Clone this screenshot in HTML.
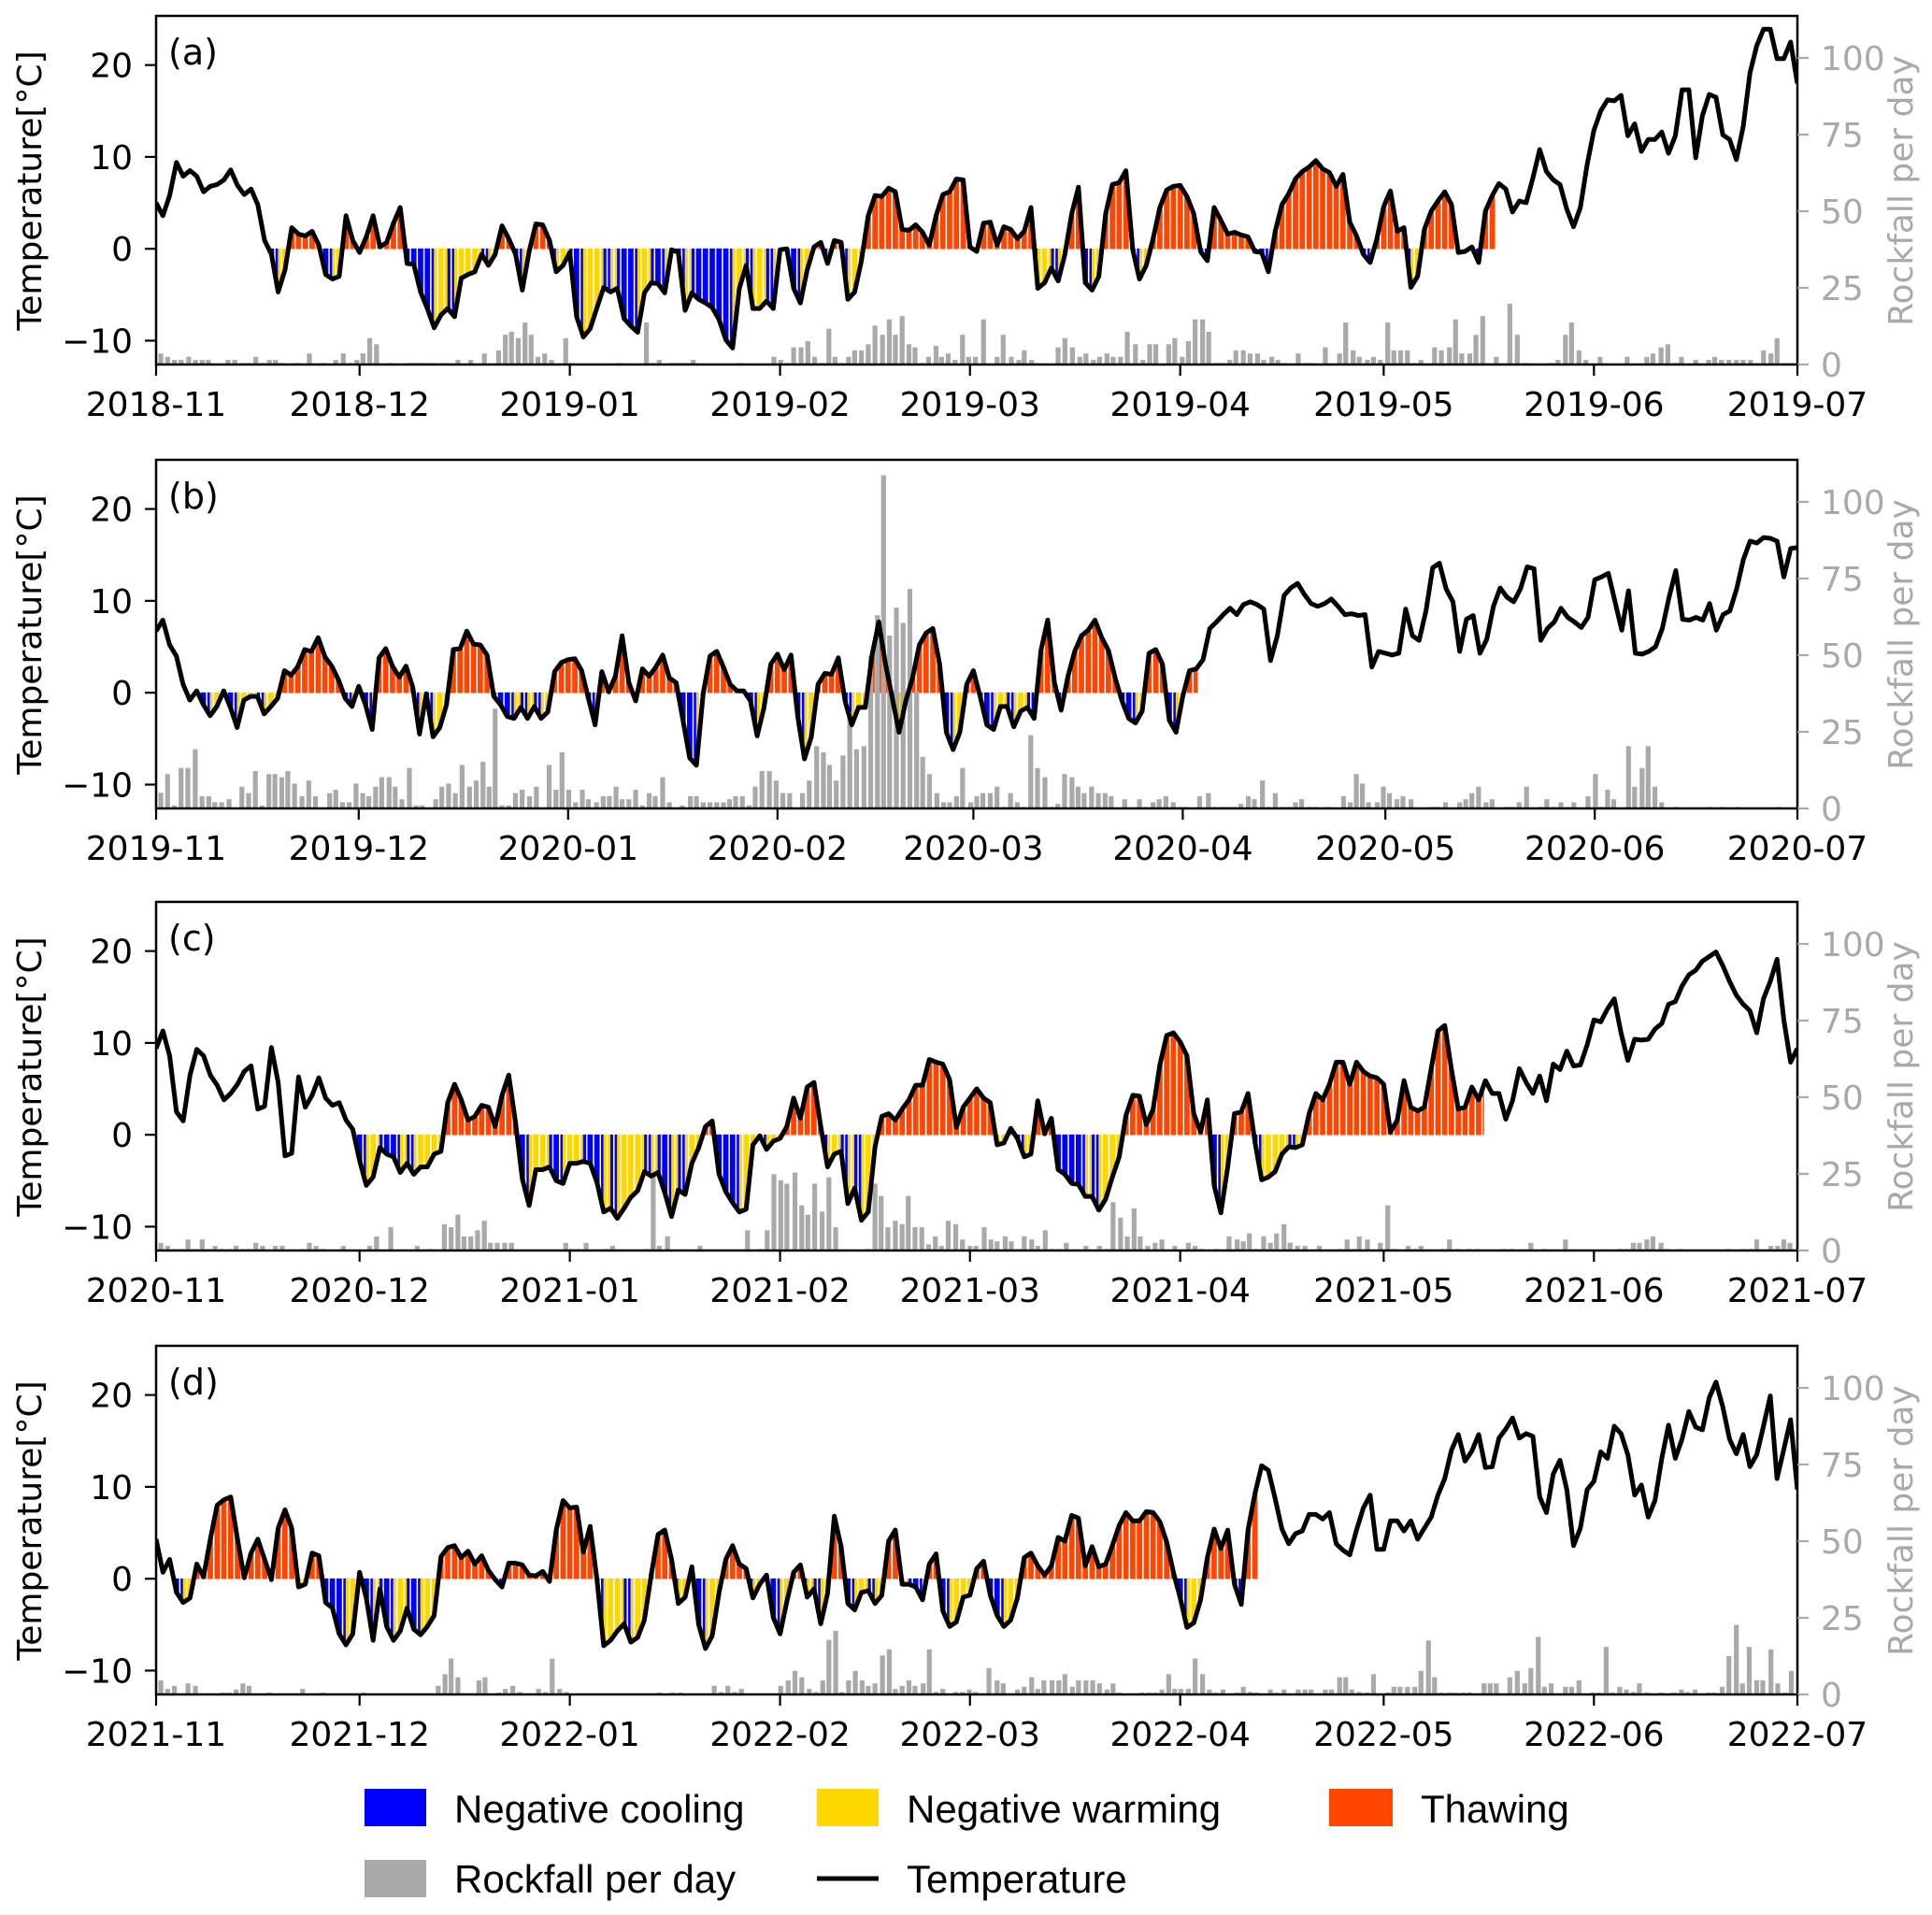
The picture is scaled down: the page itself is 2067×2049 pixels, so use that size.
<!DOCTYPE html>
<html><head><meta charset="utf-8"><style>
html,body{margin:0;padding:0;background:#fff;}
svg{display:block;}
.tk{font-family:"DejaVu Sans","Liberation Sans",sans-serif;font-size:36px;fill:#000;}
.tkr{font-family:"DejaVu Sans","Liberation Sans",sans-serif;font-size:36px;fill:#a9a9a9;}
.pl{font-family:"DejaVu Sans","Liberation Sans",sans-serif;font-size:38px;fill:#000;}
.lg{font-family:"Liberation Sans",sans-serif;font-size:42px;fill:#000;}
</style></head><body>
<svg id="chart" width="2067" height="2049" viewBox="0 0 2067 2049" xmlns="http://www.w3.org/2000/svg">
<g id="panels"></g>
<g id="legend">
  <rect x="390" y="1914" width="66" height="40" fill="#0000ff"/>
  <text class="lg" x="486" y="1950">Negative cooling</text>
  <rect x="874" y="1914" width="66" height="40" fill="#ffd700"/>
  <text class="lg" x="970" y="1950">Negative warming</text>
  <rect x="1422" y="1914" width="68" height="40" fill="#ff4500"/>
  <text class="lg" x="1520" y="1950">Thawing</text>
  <rect x="390" y="1990" width="66" height="40" fill="#a9a9a9"/>
  <text class="lg" x="486" y="2025">Rockfall per day</text>
  <line x1="874" y1="2010" x2="940" y2="2010" stroke="#000" stroke-width="5"/>
  <text class="lg" x="970" y="2025">Temperature</text>
</g>
</svg>
<script>
// ---- data ----
const monthLabelsA=["2018-11","2018-12","2019-01","2019-02","2019-03","2019-04","2019-05","2019-06","2019-07"];
const monthLabelsB=["2019-11","2019-12","2020-01","2020-02","2020-03","2020-04","2020-05","2020-06","2020-07"];
const monthLabelsC=["2020-11","2020-12","2021-01","2021-02","2021-03","2021-04","2021-05","2021-06","2021-07"];
const monthLabelsD=["2021-11","2021-12","2022-01","2022-02","2022-03","2022-04","2022-05","2022-06","2022-07"];
const monthLenNormal=[30,31,31,28,31,30,31,30];
const monthLenLeap=[30,31,31,29,31,30,31,30];
const seasonA=[16.5,197.5], seasonB=[6.3,154.2], seasonC=[29.5,195.8], seasonD=[2.9,162.4];
const tempA=[5.0,3.6,5.8,9.4,7.9,8.5,7.9,6.2,6.8,7.0,7.5,8.6,6.9,5.9,6.5,4.8,0.9,-0.6,-4.7,-2.3,2.3,1.6,1.4,1.9,0.4,-2.8,-3.3,-3.0,3.6,0.9,-0.4,1.3,3.6,0.2,0.7,2.8,4.5,-1.6,-1.7,-4.7,-6.5,-8.6,-7.2,-6.5,-7.4,-3.2,-2.8,-2.5,-0.6,-1.8,-0.6,2.5,1.1,-0.6,-4.5,-0.3,2.7,2.6,0.9,-2.5,-1.8,-0.4,-7.4,-9.6,-8.7,-6.4,-4.2,-4.7,-4.3,-7.6,-8.4,-9.1,-4.8,-3.7,-3.8,-4.8,-0.1,-0.4,-6.7,-4.8,-5.5,-5.9,-6.4,-7.7,-9.9,-10.8,-4.3,-1.8,-6.5,-6.5,-5.7,-6.5,-0.1,0.0,-4.3,-5.9,-2.3,0.2,0.7,-1.6,0.9,0.7,-5.5,-4.7,-1.3,3.6,5.8,5.7,6.6,6.2,2.1,2.0,2.6,1.8,0.4,3.6,5.9,6.2,7.6,7.5,0.2,-0.3,
2.8,2.9,0.4,2.4,2.1,1.1,1.9,4.5,-4.3,-3.7,-2.1,-3.5,-0.6,3.8,6.7,-3.7,-4.5,-3.0,3.8,7.0,7.2,8.5,-0.1,-3.3,-1.8,1.1,4.5,6.4,6.8,6.9,5.7,3.8,-0.3,-1.3,4.5,3.1,1.6,1.8,1.5,1.3,-0.3,-0.4,-2.5,1.9,4.8,6.0,7.6,8.4,8.9,9.6,8.7,8.3,6.8,8.1,2.9,1.4,-0.6,-1.5,1.1,4.6,6.3,1.9,2.3,-4.2,-3.0,2.1,4.1,5.2,6.2,4.8,-0.4,-0.3,0.2,-1.5,4.1,5.8,7.1,6.5,4.0,5.2,5.0,7.7,10.8,8.4,7.5,7.0,4.3,2.4,4.5,9.2,12.9,15.0,16.2,16.1,16.7,12.3,13.6,10.6,11.9,11.9,12.7,10.4,12.3,17.3,17.3,9.9,14.5,16.8,16.5,12.4,11.9,9.7,13.3,19.1,22.1,23.9,23.9,20.7,20.7,22.5,18.0];
const tempB=[6.7,7.9,5.2,4.0,0.9,-0.8,0.2,-1.3,-2.5,-1.5,0.2,-1.6,-3.8,-0.8,-0.4,-0.4,-2.3,-1.5,-0.6,2.4,1.9,2.9,4.7,4.5,6.0,3.9,2.9,1.4,-0.6,-1.5,0.7,-1.3,-4.0,3.8,4.8,2.9,1.7,2.9,0.6,-4.5,-0.1,-4.8,-3.8,-1.3,4.7,4.8,6.7,5.3,5.2,4.1,-0.4,-1.3,-2.6,-2.8,-1.6,-2.8,-1.5,-2.8,-2.1,2.3,3.3,3.6,3.7,2.4,-0.6,-3.5,2.3,0.1,1.8,6.2,1.1,-0.9,2.6,1.8,2.8,4.1,1.6,1.1,-3.0,-7.1,-7.9,-0.1,4.0,4.5,2.8,0.9,0.2,0.2,-0.9,-4.7,-1.6,3.1,4.2,2.5,4.1,-2.6,-7.2,-4.8,0.9,2.1,2.0,3.8,-0.9,-3.5,-1.6,-1.6,4.1,7.7,3.1,-0.6,-4.3,-0.9,1.6,5.2,6.5,7.0,3.1,-4.3,-6.2,-4.3,0.9,
2.4,-0.4,-3.5,-4.0,-1.5,-1.5,-3.7,-2.0,-1.6,-2.8,4.6,7.9,1.1,-1.9,1.8,4.5,6.2,6.8,7.9,6.0,4.6,1.6,-0.9,-2.8,-3.3,-2.0,4.3,4.7,3.1,-3.0,-4.3,-0.4,2.4,2.6,3.6,7.0,7.7,8.5,9.2,8.5,9.6,9.9,9.6,9.1,3.5,6.2,10.6,11.4,11.9,10.7,9.7,9.4,9.7,10.2,9.4,8.5,8.6,8.4,8.5,2.8,4.5,4.3,4.1,4.3,9.1,6.2,5.7,8.9,13.6,14.1,11.3,9.9,4.5,8.0,8.4,4.3,5.8,9.4,11.4,10.4,9.9,11.3,13.7,13.5,5.7,7.0,7.7,9.2,8.2,7.7,7.1,8.2,12.3,12.6,13.0,9.9,6.8,11.1,4.3,4.2,4.5,5.0,7.0,10.4,13.3,8.0,7.9,8.2,7.9,9.7,6.8,8.5,8.9,11.3,14.5,16.5,16.3,16.9,16.8,16.5,12.6,15.7,15.8];
const tempC=[9.4,11.3,8.6,2.5,1.5,6.5,9.3,8.6,6.5,5.4,3.8,4.5,5.5,6.9,7.5,2.8,3.1,9.5,5.7,-2.3,-2.0,6.3,3.0,4.3,6.2,4.0,3.2,3.5,1.6,0.6,-2.8,-5.5,-4.6,-1.4,-2.1,-2.4,-4.1,-3.1,-4.3,-3.5,-3.5,-2.1,-1.8,3.5,5.5,3.8,1.6,2.0,3.2,3.0,0.9,4.3,6.5,1.3,-4.8,-7.7,-3.8,-3.8,-3.5,-5.0,-5.3,-3.1,-3.1,-2.9,-3.1,-5.2,-8.4,-8.0,-9.1,-8.0,-6.8,-6.1,-4.0,-4.5,-4.1,-6.3,-8.9,-6.0,-6.5,-3.1,-1.4,0.9,1.5,-4.3,-6.2,-7.4,-8.4,-8.1,-1.1,-0.1,-1.6,-0.7,-0.4,0.9,4.0,1.8,5.2,5.7,0.9,-3.5,-2.1,-1.8,-7.5,-5.8,-9.3,-8.4,-1.3,2.0,2.3,1.6,2.8,3.8,5.4,5.4,8.2,7.9,7.7,6.0,0.8,3.0,4.0,5.0,
4.0,3.5,-1.1,-0.9,0.7,-0.4,-2.4,-2.1,3.7,0.1,1.8,-3.8,-4.3,-5.3,-5.4,-6.7,-6.7,-8.2,-7.0,-4.6,-2.4,2.1,4.3,4.2,1.1,2.8,7.6,10.8,11.1,10.1,8.6,2.3,0.3,3.8,-5.5,-8.5,-3.5,2.3,2.5,4.5,-0.7,-4.9,-4.6,-4.0,-2.1,-1.3,-1.4,-1.1,2.3,4.5,3.8,5.5,7.9,7.9,5.5,7.9,6.9,6.4,6.2,5.5,0.3,1.6,5.9,3.0,2.6,3.0,7.2,11.3,11.9,7.1,2.8,3.0,5.2,3.8,5.9,4.5,4.5,1.7,3.7,7.2,5.7,4.5,6.4,3.7,7.7,7.1,9.1,7.5,7.6,9.8,12.5,12.3,13.7,14.8,11.1,8.1,10.4,10.3,10.4,11.5,12.1,14.2,14.5,16.2,17.4,17.9,18.9,19.4,19.9,18.4,16.7,15.2,14.2,13.5,11.1,14.8,16.7,19.1,12.5,7.9,9.4];
const tempD=[4.3,0.7,2.1,-1.5,-2.6,-2.1,1.6,0.2,4.3,8.0,8.6,8.9,4.3,0.1,2.8,4.3,2.1,-0.1,5.5,7.5,5.5,-0.9,-0.6,2.8,2.5,-2.6,-3.2,-6.0,-7.2,-6.0,0.7,-2.1,-6.7,-1.1,-5.2,-6.7,-5.7,-3.2,-5.5,-6.1,-5.2,-4.0,2.4,3.4,3.6,2.3,3.0,1.6,2.5,0.9,-0.1,-0.9,1.7,1.7,1.5,0.4,0.3,0.8,-0.3,5.3,8.5,7.7,7.8,2.9,5.7,-0.1,-7.3,-6.7,-5.7,-4.9,-6.9,-6.4,-4.5,0.4,4.8,5.3,2.1,-2.7,-2.0,1.3,-5.0,-7.6,-6.2,-1.5,2.1,3.6,1.6,1.1,-2.1,-0.6,0.4,-4.2,-6.0,-2.5,0.7,1.5,-2.0,-1.1,-4.9,-1.6,6.8,3.5,-2.7,-3.4,-1.5,-1.3,-2.7,-1.8,4.1,5.3,-0.6,-0.6,-0.9,-2.3,1.6,2.7,-3.5,-5.2,-4.7,-2.0,-1.8,1.1,
1.9,-1.8,-4.0,-5.2,-4.5,-2.1,2.3,2.8,1.4,0.4,1.4,4.5,4.1,6.9,6.6,1.4,3.5,1.3,1.6,3.6,5.8,7.2,6.3,6.3,7.3,7.2,6.2,4.0,0.7,-2.1,-5.3,-4.8,-2.3,2.3,5.4,3.3,5.3,-0.6,-2.8,5.3,9.2,12.3,11.8,8.7,5.4,3.8,4.9,5.2,7.0,7.0,6.5,7.2,3.8,3.1,2.6,5.3,7.7,9.1,3.2,3.2,6.3,6.3,5.2,6.3,4.3,5.5,6.7,9.1,10.9,14.0,15.7,12.8,13.9,15.7,12.1,12.2,15.3,16.3,17.5,15.3,15.8,15.5,8.9,7.2,11.4,12.9,9.7,3.6,5.5,9.7,10.6,13.8,13.1,16.6,15.8,13.5,9.1,10.2,6.7,8.5,13.1,16.7,13.1,15.2,18.2,16.5,16.2,19.7,21.4,18.7,15.2,13.6,15.7,12.2,13.5,16.6,19.9,10.9,14.1,17.3,9.7];
const rfDayA=[0.7,1.7,2.7,3.7,4.8,5.8,6.8,7.7,10.6,11.6,12.8,13.7,14.7,15.7,16.7,17.6,18.5,20.7,22.6,24.6,26.5,27.6,28.6,29.6,30.5,31.5,32.5,34.5,37.5,38.3,39.1,39.9,40.8,42.6,44.5,46.4,48.4,50.5,51.5,52.4,53.4,54.4,55.3,56.3,57.3,58.3,60.4,61.3,68.3,72.3,73.1,74.2,76.1,76.9,77.7,78.5,79.2,86.2,91.1,92.1,93.0,94.0,95.1,96.1,97.1,98.2,99.2,100.1,101.1,102.1,103.0,104.0,105.0,106.0,107.1,108.1,109.0,110.0,111.0,111.9,112.9,113.9,115.0,115.8,116.8,117.8,118.9,119.8,120.8,122.0,124.0,124.9,126.1,127.2,128.0,129.1,130.0,133.0,134.0,135.1,136.2,137.1,138.2,139.1,140.2,141.1,142.2,143.2,144.4,145.5,146.5,147.4,149.3,150.2,151.3,152.2,153.2,154.3,155.2,156.3,157.2,158.3,159.2,160.3,161.3,162.4,163.3,164.5,165.4,166.4,168.4,169.6,170.4,172.4,174.5,175.4,176.5,177.4,178.6,179.5,180.5,181.6,182.5,183.5,184.5,185.4,186.5,188.5,189.5,190.7,191.6,192.5,193.7,194.6,195.6,197.6,199.6,200.7,201.8,205.7,206.7,207.8,208.7,209.8,210.8,212.9,216.9,219.8,220.7,221.9,222.9,224.0,224.9,227.0,228.9,229.8,230.8,231.9,233.0,234.0,235.1,236.0,237.0,238.1,239.0,240.2,241.1];
const rfValA=[3.6,2.5,1.5,1.5,2.5,1.5,1.5,1.5,1.5,1.5,0.5,0.5,2.5,0.5,1.5,1.5,0.5,0.5,3.6,0.5,1.5,3.6,0.5,1.5,3.6,8.6,6.6,0.5,0.5,0.5,0.5,0.5,0.5,0.5,1.5,1.5,3.6,4.6,9.7,10.7,8.6,13.7,9.7,2.5,3.6,1.5,8.6,0.5,0.5,13.7,0.5,1.5,0.5,0.5,0.5,0.5,1.5,0.5,2.5,1.5,0.5,5.6,5.6,7.6,2.5,0.5,11.7,2.5,0.5,2.5,4.6,4.6,6.6,12.7,9.7,14.7,9.7,15.8,6.6,5.6,0.5,2.5,6.1,2.5,3.6,1.5,9.7,2.5,2.5,14.7,2.5,9.7,2.5,1.5,4.6,1.5,0.5,5.6,8.6,5.6,2.5,3.6,1.5,2.5,3.6,2.5,2.5,10.7,6.6,1.5,6.6,6.6,6.6,8.6,2.5,7.6,14.7,14.7,10.7,0.5,0.5,1.5,4.6,4.6,3.6,3.6,1.5,2.5,1.5,0.5,3.6,0.5,0.5,5.6,3.6,13.7,4.6,2.5,1.5,2.5,1.5,13.7,4.6,4.6,4.6,0.5,1.5,5.6,4.6,5.6,14.7,3.6,3.6,9.7,15.8,2.5,19.8,9.7,0.5,0.5,1.5,9.7,13.7,4.6,1.5,2.5,2.5,2.5,3.6,5.6,6.6,0.5,2.5,1.5,1.5,2.5,1.5,1.5,1.5,1.5,1.5,0.5,4.6,3.6,8.6,0.5,0.5];
const rfDayB=[0.7,1.7,2.7,3.7,4.7,5.8,6.8,7.8,8.7,9.7,10.8,12.7,13.7,14.7,15.7,16.7,17.6,18.6,19.5,20.5,21.6,22.6,23.6,25.7,26.6,27.6,28.6,29.6,30.6,31.5,32.5,33.4,34.5,35.4,36.4,37.5,38.5,39.4,41.4,42.3,43.3,44.3,45.3,46.4,47.4,48.4,49.3,50.2,51.2,52.2,53.2,54.2,55.3,56.3,58.2,59.2,60.1,61.1,62.1,63.1,64.0,65.2,66.2,67.1,68.1,69.0,70.0,71.0,72.0,73.0,73.9,75.0,76.0,77.9,79.1,80.0,81.0,82.0,83.0,84.0,84.9,85.8,86.8,87.8,88.7,89.7,90.8,91.8,92.8,93.8,95.7,96.7,97.8,98.8,99.7,100.7,101.7,102.7,103.7,104.8,105.8,106.8,107.7,108.6,109.6,110.6,111.6,112.6,113.5,114.5,115.6,116.6,117.5,118.5,119.4,120.6,121.5,122.4,123.5,124.5,125.6,126.5,127.5,128.4,129.5,130.5,131.6,132.6,133.5,134.5,135.6,136.5,137.4,138.5,139.5,140.5,141.4,143.4,145.6,146.5,147.6,148.5,149.5,150.6,151.5,152.4,154.5,155.8,156.7,157.8,158.7,159.6,160.6,161.7,162.6,163.8,164.7,165.7,166.8,167.8,168.7,169.6,170.8,171.7,173.5,175.8,176.8,177.7,178.6,179.5,180.8,181.7,182.6,183.7,184.6,185.8,188.8,189.7,190.9,193.0,193.9,194.8,195.8,196.9,197.8,199.9,200.8,201.8,202.9,205.0,205.9,207.0,208.0,209.0,209.9,212.0,213.1,214.0,214.9,215.8,218.0,218.9,220.0,220.9,221.9,222.9,225.1,230.0,231.9,234.2,240.2];
const rfValB=[5.1,11.2,1,13.2,13.2,19.3,4,4,2,2,3,7.1,5,12.2,1,11.2,11.2,10.2,12.2,8.1,4,9.1,4,5,6.1,2,2,8.1,5,4,7.1,10.2,10.2,7.1,3,13.2,1,1,3,7.1,8.1,5,14.2,7.1,9.1,15.2,7.1,32.5,1,1,5,6.1,4,7.1,14.2,6.1,18.3,6.1,2,6.1,3,2,4,4,7.1,3,3,6.1,1,5,4,10.2,2,1,4,4,2,2,2,2,3,4,4,1,7.1,12.2,12.2,9.1,5,5,5,9.1,20.3,18.3,14.2,9.1,17.3,31.5,19.3,20.3,49.8,63,108.7,56.4,65.5,60.5,71.6,38.1,16.8,11.2,5,2,2,4,13.2,2,4,5,5,7.1,0.5,5,2,0.5,23.9,13.2,10.2,0.5,1.5,11.2,10.2,7.1,5,7.1,5,5,4,3,3,0.5,2,3,4,2,0.5,0.5,4,5,0.5,0.5,0.5,0.5,1.5,4,3,9.1,0.5,5,0.5,0.5,2,3,0.5,0.5,0.5,4,2,11.2,8.1,2,2,7.1,5,3,4,3,0.5,0.5,2,2,3,5,7.1,2,3,0.5,0.5,2,7.1,0.5,3,0.5,2,0.5,2,4,11.2,0.5,6.1,3,20.3,7.1,13.2,20.3,7.1,2,0.5,0.5,0.5,0.5,0.5];
const rfDayC=[0.7,1.7,2.7,3.7,4.7,5.8,6.8,7.8,8.7,9.7,10.8,11.8,12.8,13.7,14.7,15.7,17.6,18.6,21.6,22.6,23.6,24.6,27.6,31.5,32.5,34.6,38.5,40.4,42.5,43.5,44.5,45.4,46.4,47.4,48.4,49.3,50.3,51.4,52.4,60.4,61.3,62.3,63.4,66.3,67.3,72.3,73.3,74.2,75.4,80.2,87.2,89.1,90.1,91.1,92.1,93.0,94.2,95.2,96.1,97.1,98.2,99.2,100.2,105.0,106.0,106.9,107.9,109.0,110.0,110.9,111.9,112.9,113.9,114.9,115.8,116.8,117.9,118.9,120.0,120.9,122.1,123.1,124.0,125.2,126.1,127.2,128.0,129.1,130.0,131.1,132.1,133.1,134.2,137.1,139.1,140.2,141.1,142.2,143.2,144.2,145.1,146.2,147.3,148.3,150.2,152.2,153.2,154.1,156.4,158.2,159.4,160.3,161.2,162.2,163.3,164.3,165.2,166.3,167.2,168.3,169.4,171.5,174.5,175.6,176.5,177.4,178.6,180.5,181.6,182.6,184.6,185.6,186.5,189.7,190.7,191.9,193.7,194.8,198.7,199.9,202.7,204.7,207.8,215.9,216.9,217.8,218.7,219.8,220.7,221.9,222.8,224.7,231.9,234.0,235.1,236.0,238.1,239.1,240.0,240.9];
const rfValC=[2.5,1.5,0.5,0.5,3.6,0.5,3.6,0.5,1.5,0.5,0.5,1.5,0.5,0.5,2.5,1.5,1.5,1.5,0.5,2.5,1.5,0.5,1.5,1.5,4.6,7.6,1.5,0.5,8.6,7.6,11.7,4.6,4.6,6.6,9.7,2.5,2.5,2.5,2.5,2.5,0.5,0.5,2.5,0.5,1.5,0.5,25.4,1.5,4.6,1.5,6.6,0.5,6.6,24.9,22.9,21.8,25.4,14.7,11.7,21.8,12.7,23.9,7.6,0.5,21.8,17.8,7.6,9.7,8.6,17.8,7.6,7.6,2,4.6,1.5,9.7,8.6,3.6,1.5,1.5,7.6,3.6,3,4.6,3,0.5,4.6,3.6,1.5,6.6,0.5,0.5,2.5,1.5,1.5,0.5,15.8,10.7,4.6,13.7,4.6,1.5,2.5,3.6,1.5,2.5,1.5,0.5,0.5,4.6,3.6,3,5.6,0.5,4.6,2.5,5.6,8.6,2.5,1.5,1.5,1.5,0.5,3.6,0.5,4.6,3.6,2.5,14.7,0.5,1.5,0.5,1.5,0.5,3.6,0.5,0.5,0.5,0.5,0.5,2.5,0.5,3.6,0.5,0.5,2.5,2.5,3.6,4.6,2.5,0.5,0.5,0.5,0.5,0.5,3.6,1.5,1.5,3.6,2.5];
const rfDayD=[0.7,1.7,2.7,4.7,5.8,9.9,10.8,11.8,12.8,13.7,16.7,21.6,24.6,30.6,41.6,42.6,43.5,44.5,47.6,48.5,50.5,51.5,52.6,53.6,56.4,57.4,58.4,59.5,60.5,74.2,76.2,77.3,82.3,83.3,84.3,85.3,86.3,92.1,93.2,94.2,95.2,96.3,97.3,98.3,99.2,100.2,101.1,102.1,103.1,104.1,105.0,106.0,107.1,108.1,109.0,110.0,111.0,111.9,113.1,114.0,115.0,116.0,117.9,118.9,119.9,120.8,122.8,124.0,124.9,127.0,128.0,129.1,130.0,130.9,132.1,133.1,134.0,135.1,136.0,137.1,138.1,139.1,140.2,141.1,142.0,145.3,146.4,147.3,148.3,149.3,150.2,151.1,152.2,153.2,154.3,155.3,156.2,157.3,159.4,160.3,161.3,162.2,164.3,165.2,166.3,168.4,169.4,170.3,172.4,173.3,174.5,175.4,176.3,177.4,178.6,179.5,181.6,182.5,183.4,184.5,185.6,186.5,187.6,188.5,189.5,190.7,191.6,192.7,193.7,195.8,196.7,197.6,199.6,200.7,201.8,202.7,203.8,204.7,205.7,207.8,208.7,209.8,211.8,212.7,213.8,214.7,215.8,216.8,217.8,218.7,219.8,221.9,223.8,224.9,225.8,226.9,228.9,229.8,230.9,231.9,233.0,233.9,234.9,236.0,236.9,238.1,239.1,240.2,241.1];
const rfValD=[4.6,1.8,2.8,3.6,2.8,0.6,0.6,1.6,3.6,2.8,0.6,1.8,0.6,0.6,2.8,6.6,11.7,5.6,4.6,5.6,0.6,1.8,2.8,0.8,1.8,0.8,11.7,1.8,0.8,0.6,0.6,0.6,2.8,0.8,2.8,0.8,1.8,2.8,4.6,7.7,5.6,1.8,0.8,4.6,17.8,20.8,0.8,4.6,7.7,4.6,2.8,3.6,12.7,14.7,1.8,2.8,4.6,2.8,3.6,14.7,0.8,1.8,0.8,0.8,1.6,0.8,8.6,4.6,3.6,1.6,2.5,5.6,1.8,4.6,4.6,4.6,6.6,2.5,4.6,4.6,4.6,3.6,1.6,3.6,0.6,0.6,0.6,0.6,1.6,6.6,1.8,1.8,1.8,11.7,6.6,1.6,0.6,1.6,0.6,2.5,0.8,0.6,1.6,0.6,1.6,1.6,1.6,1.6,1.6,1.6,5.6,5.6,1.6,0.8,0.6,6.6,0.6,2.5,2.5,2.5,2.5,7.7,17.6,5.6,0.6,0.6,0.6,0.6,0.6,3.6,3.6,3.6,5.6,7.7,3.6,8.6,18.8,2.5,3.6,2.5,2.5,4.6,0.6,0.6,15.5,0.6,2.5,1.6,0.8,3.6,0.6,0.6,0.6,1.6,0.8,1.6,0.6,0.6,2.5,12.5,22.7,3.6,15.5,4.6,4.6,14.7,3.6,0.6,7.7];
const tempTicks=[-10,0,10,20];
const rockTicks=[0,25,50,75,100];

// ---- layout ----
const X0=167, X1=1923, PH=373, TMAX=25.35, TPX=9.83, RPX=3.28;
const panels=[
 {tag:"(a)",key:"a",top:17,labels:monthLabelsA,lens:monthLenNormal,temp:tempA,rfDay:rfDayA,rfVal:rfValA,season:seasonA},
 {tag:"(b)",key:"b",top:492,labels:monthLabelsB,lens:monthLenLeap,temp:tempB,rfDay:rfDayB,rfVal:rfValB,season:seasonB},
 {tag:"(c)",key:"c",top:965,labels:monthLabelsC,lens:monthLenNormal,temp:tempC,rfDay:rfDayC,rfVal:rfValC,season:seasonC},
 {tag:"(d)",key:"d",top:1440,labels:monthLabelsD,lens:monthLenNormal,temp:tempD,rfDay:rfDayD,rfVal:rfValD,season:seasonD}
];
const NS="http://www.w3.org/2000/svg";
function mk(tag,attrs,parent){const e=document.createElementNS(NS,tag);for(const k in attrs)e.setAttribute(k,attrs[k]);if(parent)parent.appendChild(e);return e;}
const root=document.getElementById('panels');

panels.forEach(p=>{
  const total=p.lens.reduce((a,b)=>a+b,0);
  const xs=d=>X0+d/total*(X1-X0);
  const yt=t=>p.top+(TMAX-t)*TPX;
  const yr=v=>p.top+PH-v*RPX;
  const y0=yt(0);
  const g=mk('g',{},root);
  
  

  const clipId='clip-'+p.key;
  const defs=mk('defs',{},g);
  const cp=mk('clipPath',{id:clipId},defs);
  mk('rect',{x:xs(p.season[0]),y:p.top,width:xs(p.season[1])-xs(p.season[0]),height:PH},cp);
  const pclip='pclip-'+p.key;
  const cp2=mk('clipPath',{id:pclip},defs);
  mk('rect',{x:X0,y:p.top,width:X1-X0,height:PH},cp2);

  const fg=mk('g',{'clip-path':'url(#'+clipId+')'},g);
  
  
  const n=p.temp.length, step=total/(n-1);
  for(let i=0;i<n-1;i++){
    const d1=i*step,d2=(i+1)*step,t1=p.temp[i],t2=p.temp[i+1];
    const negCol=(t2<t1)?'#0000ff':'#ffd700';
    let segs=[];
    if(t1*t2<0){const dc=d1+(d2-d1)*t1/(t1-t2);segs=[[d1,t1,dc,0],[dc,0,d2,t2]];}
    else segs=[[d1,t1,d2,t2]];
    segs.forEach(s=>{
      const m=(s[1]+s[3])/2; if(m===0)return;
      const col=m>0?'#ff4500':negCol;
      const poly=mk('polygon',{points:[xs(s[0])+','+y0,xs(s[0])+','+yt(s[1]),xs(s[2])+','+yt(s[3]),xs(s[2])+','+y0].join(' '),fill:col,stroke:col,'stroke-width':0.6},fg);
      
      
    });
  }
  for(let k=Math.floor(p.season[0]);k<=Math.ceil(p.season[1]);k++){
    const sx=xs(k+0.5);
    mk('line',{x1:sx,x2:sx,y1:p.top,y2:p.top+PH,stroke:'#fff','stroke-width':1.5},fg);
  }

  const rg=mk('g',{'clip-path':'url(#'+pclip+')'},g);
  
  
  p.rfDay.forEach((d,i)=>{
    const v=p.rfVal[i];
    const b=mk('rect',{x:xs(d)-2.6,y:yr(v),width:5.2,height:v*RPX,fill:'#a9a9a9'},rg);
    
    
  });

  const pts=p.temp.map((t,i)=>xs(i*step).toFixed(1)+','+yt(t).toFixed(1)).join(' ');
  const ln=mk('polyline',{points:pts,fill:'none',stroke:'#000','stroke-width':5,'stroke-linejoin':'round','clip-path':'url(#'+pclip+')'},g);
  
  

  const fr=mk('rect',{x:X0,y:p.top,width:X1-X0,height:PH,fill:'none',stroke:'#000','stroke-width':2.5},g);
  
  

  tempTicks.forEach(t=>{
    const y=yt(t);
    mk('line',{x1:X0-12,x2:X0,y1:y,y2:y,stroke:'#000','stroke-width':2.2},g);
    const tx=mk('text',{x:142,y:y+13,'text-anchor':'end',class:'tk'},g);
    tx.textContent=t<0?'\u2212'+Math.abs(t):String(t);
    
    
  });
  rockTicks.forEach(v=>{
    const y=yr(v);
    mk('line',{x1:X1,x2:X1+12,y1:y,y2:y,stroke:'#a9a9a9','stroke-width':2.2},g);
    const tx=mk('text',{x:1948,y:y+13,class:'tkr'},g);
    tx.textContent=String(v);
    
    
  });
  let cum=0;
  p.labels.forEach((lab,i)=>{
    const x=xs(cum);
    mk('line',{x1:x,x2:x,y1:p.top+PH,y2:p.top+PH+12,stroke:'#000','stroke-width':2.2},g);
    const tx=mk('text',{x:x,y:p.top+PH+55,'text-anchor':'middle',class:'tk'},g);
    tx.textContent=lab;
    
    
    if(i<p.lens.length)cum+=p.lens[i];
  });
  const cy=p.top+187;
  const yl=mk('text',{x:0,y:0,transform:'translate(44,'+cy+') rotate(-90)','text-anchor':'middle',class:'tk'},g);
  yl.textContent='Temperature[\u00b0C]';
  
  
  const yl2=mk('text',{x:0,y:0,transform:'translate(2046,'+cy+') rotate(-90)','text-anchor':'middle',class:'tkr'},g);
  yl2.textContent='Rockfall per day';
  
  
  const tg=mk('text',{x:180,y:p.top+52,class:'pl'},g);
  tg.textContent=p.tag;
  
  
});
</script>
</body></html>
